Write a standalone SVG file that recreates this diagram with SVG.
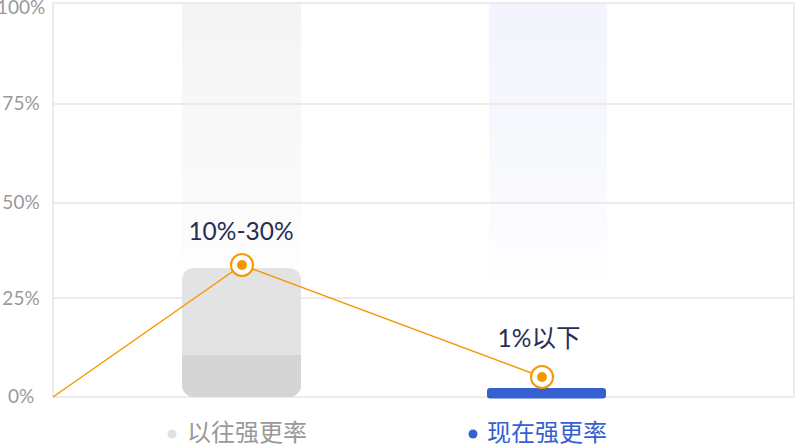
<svg xmlns="http://www.w3.org/2000/svg" width="795" height="446" viewBox="0 0 795 446">
<style>
.grid{stroke:#e6e6e6;stroke-width:1.5;fill:none}
.axis{font-family:Lato,"Noto Sans CJK SC",sans-serif;font-size:19px;fill:#999;text-anchor:middle}
.val{font-family:Lato,"Noto Sans CJK SC",sans-serif;font-size:24.5px;fill:#262e55;text-anchor:middle}
.leg{font-family:"Noto Sans CJK SC",sans-serif;font-size:24px}
.ring{fill:#fff;stroke:#f39800;stroke-width:2}
.dot{fill:#f39800}
</style>
<defs>
<linearGradient id="g1" x1="0" y1="0" x2="0" y2="1">
<stop offset="0" stop-color="#f4f4f4"/>
<stop offset="0.6" stop-color="#f9f9f9"/>
<stop offset="1" stop-color="#fefefe"/>
</linearGradient>
<linearGradient id="g2" x1="0" y1="0" x2="0" y2="1">
<stop offset="0" stop-color="#f3f4fc"/>
<stop offset="0.6" stop-color="#f8f9fd"/>
<stop offset="1" stop-color="#fefeff"/>
</linearGradient>
</defs>
<rect width="795" height="446" fill="#fff"/>
<g id="columns">
<rect x="182" y="3" width="119" height="275" fill="url(#g1)"/>
<rect x="489" y="3" width="118" height="275" fill="url(#g2)"/>
</g>
<g id="grid">
<line class="grid" x1="53" y1="3" x2="794" y2="3"/>
<line class="grid" x1="53" y1="104" x2="794" y2="104"/>
<line class="grid" x1="53" y1="203" x2="794" y2="203"/>
<line class="grid" x1="53" y1="298" x2="794" y2="298"/>
<line class="grid" x1="53" y1="397" x2="794" y2="397"/>
<line class="grid" x1="53" y1="3" x2="53" y2="397"/>
<line class="grid" x1="794" y1="3" x2="794" y2="397"/>
</g>
<g id="axis-labels">
<text class="axis" x="21" y="14">100%</text>
<text class="axis" x="21" y="110">75%</text>
<text class="axis" x="21" y="209">50%</text>
<text class="axis" x="21" y="305">25%</text>
<text class="axis" x="21" y="403">0%</text>
</g>
<g id="bar-past">
<rect x="182" y="268" width="119" height="129" rx="12" fill="#e3e3e3"/>
<path d="M182 355 H301 V385 A12 12 0 0 1 289 397 H194 A12 12 0 0 1 182 385 Z" fill="#d5d5d5"/>
</g>
<g id="bar-now">
<rect x="487" y="388" width="119" height="10.5" rx="3" fill="#3560d0"/>
</g>
<g id="connectors">
<polyline points="53,397 242,265 542,377" fill="none" stroke="#f39800" stroke-width="1.5"/>
</g>
<g id="point-past">
<circle class="ring" cx="242" cy="265" r="11"/>
<circle class="dot" cx="242" cy="265" r="5"/>
<text class="val" x="241" y="240">10%-30%</text>
</g>
<g id="point-now">
<circle class="ring" cx="542" cy="377" r="11"/>
<circle class="dot" cx="542" cy="377" r="5"/>
<text class="val" x="539" y="347">1%以下</text>
</g>
<g id="legend">
<circle cx="172" cy="434" r="4.5" fill="#e0e0e0"/>
<text class="leg" x="187" y="441" fill="#999">以往强更率</text>
<circle cx="473" cy="434" r="4.5" fill="#3560d0"/>
<text class="leg" x="487" y="441" fill="#3560d0">现在强更率</text>
</g>
</svg>
